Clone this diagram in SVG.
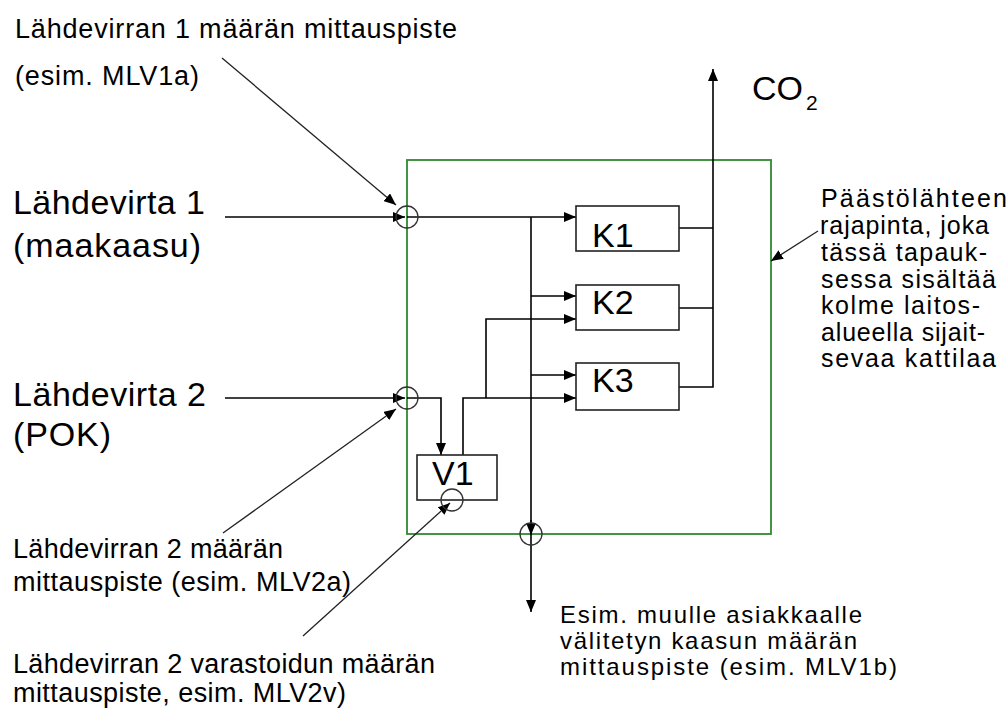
<svg xmlns="http://www.w3.org/2000/svg" width="1008" height="711" viewBox="0 0 1008 711">
<style>
text{font-family:"Liberation Sans",Arial,sans-serif;fill:#000}
.big{font-size:34px}
.sm{font-size:27px}
.rt{font-size:25px}
.br{font-size:24px}
.box{fill:none;stroke:#222;stroke-width:1.6}
.ln{fill:none;stroke:#000;stroke-width:1.6}
.ptr{fill:none;stroke:#222;stroke-width:1.3}
.meas{fill:none;stroke:#333;stroke-width:1.3}
</style>
<defs>
<marker id="arr" viewBox="0 0 12 10" refX="12" refY="5" markerWidth="12" markerHeight="10" markerUnits="userSpaceOnUse" orient="auto">
<path d="M0,0 L12,5 L0,10 z" fill="#000"/>
</marker>
</defs>
<rect id="boundary" x="407" y="160" width="364" height="374" fill="none" stroke="#2f8a2f" stroke-width="1.8"/>
<g id="connectors">
<path class="ln" d="M225,217 H405" marker-end="url(#arr)"/>
<path class="ln" d="M407,217 H576" marker-end="url(#arr)"/>
<path class="ln" d="M531,217 V612" marker-end="url(#arr)"/>
<path class="ln" d="M531,520 V535" marker-end="url(#arr)"/>
<path class="ln" d="M531,296 H576" marker-end="url(#arr)"/>
<path class="ln" d="M531,375 H576" marker-end="url(#arr)"/>
<path class="ln" d="M225,398 H405" marker-end="url(#arr)"/>
<path class="ln" d="M407,398 H441 V455" marker-end="url(#arr)"/>
<path class="ln" d="M463,455 V398 H576" marker-end="url(#arr)"/>
<path class="ln" d="M486,398 V319 H576" marker-end="url(#arr)"/>
<path class="ln" d="M679,228 H713 M679,308 H713"/>
<path class="ln" d="M679,387 H713 V69" marker-end="url(#arr)"/>
<path class="ptr" d="M222,58 L396,205" marker-end="url(#arr)"/>
<path class="ptr" d="M223,533 L396,409" marker-end="url(#arr)"/>
<path class="ptr" d="M303,636 L450,503" marker-end="url(#arr)"/>
<path class="ptr" d="M818,231 L771,261" marker-end="url(#arr)"/>
</g>
<g id="m1"><circle class="meas" cx="407" cy="217" r="11"/></g>
<g id="m2"><circle class="meas" cx="407" cy="398" r="11"/></g>
<g id="m4"><circle class="meas" cx="531" cy="534" r="11"/></g>
<g id="K1"><rect class="box" x="576" y="206" width="103" height="45"/><text class="big" x="592" y="247">K1</text></g>
<g id="K2"><rect class="box" x="576" y="285" width="103" height="45"/><text class="big" x="592" y="314">K2</text></g>
<g id="K3"><rect class="box" x="576" y="363" width="103" height="47"/><text class="big" x="592" y="392">K3</text></g>
<g id="V1"><rect class="box" x="417" y="455" width="80" height="45" fill="#fff"/><text class="big" x="432" y="485">V1</text></g>
<g id="m3"><circle class="meas" cx="452" cy="500" r="11"/></g>
<g id="co2"><text class="big" x="752" y="100">CO</text><text x="806" y="110" font-size="21">2</text></g>
<g id="src1"><text class="big" x="13" y="214" textLength="192">Lähdevirta 1</text><text class="big" x="13" y="257" textLength="188">(maakaasu)</text></g>
<g id="src2"><text class="big" x="13" y="406" textLength="193">Lähdevirta 2</text><text class="big" x="13" y="446" textLength="98">(POK)</text></g>
<g id="note1"><text class="sm" x="15" y="38" textLength="442">Lähdevirran 1 määrän mittauspiste</text><text class="sm" x="15" y="85" textLength="184">(esim. MLV1a)</text></g>
<g id="note2"><text class="sm" x="13" y="558" textLength="270">Lähdevirran 2 määrän</text><text class="sm" x="13" y="591" textLength="338">mittauspiste (esim. MLV2a)</text></g>
<g id="note3"><text class="sm" x="13" y="673" textLength="422">Lähdevirran 2 varastoidun määrän</text><text class="sm" x="13" y="702" textLength="333">mittauspiste, esim. MLV2v)</text></g>
<g id="note4"><text class="br" x="560" y="623" textLength="302">Esim. muulle asiakkaalle</text><text class="br" x="560" y="649" textLength="297">välitetyn kaasun määrän</text><text class="br" x="560" y="675" textLength="337">mittauspiste (esim. MLV1b)</text></g>
<g id="note5">
<text class="rt" x="821" y="207" textLength="186">Päästölähteen</text>
<text class="rt" x="820" y="234" textLength="169">rajapinta, joka</text>
<text class="rt" x="821" y="261" textLength="166">tässä tapauk-</text>
<text class="rt" x="821" y="288" textLength="175">sessa sisältää</text>
<text class="rt" x="821" y="314" textLength="159">kolme laitos-</text>
<text class="rt" x="821" y="341" textLength="164">alueella sijait-</text>
<text class="rt" x="821" y="367" textLength="175">sevaa kattilaa</text>
</g>
</svg>
